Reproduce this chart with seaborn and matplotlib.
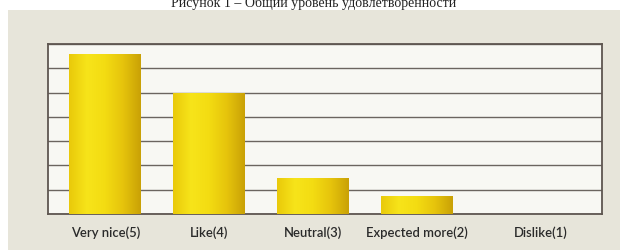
import numpy as np
import pandas as pd
import matplotlib.pyplot as plt
import matplotlib.patches as mpatches
import matplotlib.transforms as mtransforms
from matplotlib.colors import LinearSegmentedColormap
import seaborn as sns

# данные
categories = ["Very nice(5)", "Like(4)", "Neutral(3)", "Expected more(2)", "Dislike(1)"]
values = [6.6, 5.0, 1.5, 0.75, 0.0]
title = "Рисунок 1 – Общий уровень удовлетворенности"

df = pd.DataFrame({"cat": categories, "val": values})

sns.set_theme(style="white")
plt.rcParams["font.family"] = ["Lato", "DejaVu Sans"]

fig = plt.figure(figsize=(6.27, 2.5), dpi=100, facecolor="white")

# бежевая подложка
panel = mpatches.Rectangle((8 / 627, 0), 612 / 627, 240 / 250,
                           transform=fig.transFigure,
                           facecolor="#E7E5DA", edgecolor="none", zorder=-5)
fig.patches.append(panel)

# заголовок (обрезан сверху, как на исходнике)
fig.text(0.5, 1 - 6.5 / 250, title, ha="center", va="baseline",
         fontsize=10.0, family="Liberation Serif", color="#222222")

ax = fig.add_axes([48 / 627, 36 / 250, 554 / 627, 170 / 250])
ax.set_zorder(2)
ax.set_facecolor("#F8F8F3")

sns.barplot(data=df, x="cat", y="val", color="#F0D814", width=0.69,
            saturation=1, ax=ax, zorder=3)

# градиент на столбиках (объём)
cmap = LinearSegmentedColormap.from_list(
    "gold", ["#E9C90A", "#F7E41A", "#F3DC12", "#E6C40C", "#C9A106"])
grad = np.linspace(0, 1, 256).reshape(1, -1)
for p in list(ax.patches):
    p.set_edgecolor("none")
    p.set_linewidth(0)
    if p.get_height() <= 0:
        continue
    x0, w, h = p.get_x(), p.get_width(), p.get_height()
    im = ax.imshow(grad, cmap=cmap, aspect="auto", extent=[x0, x0 + w, 0, h],
                   zorder=4, interpolation="bicubic")
    im.set_clip_path(p)

ax.set_xlim(-0.55, 4.78)
ax.set_ylim(0, 7)
ax.set_yticks(range(0, 8))
ax.yaxis.grid(True, color="#6B655F", linewidth=1.0)
ax.set_axisbelow(True)
ax.set_yticklabels([])
ax.tick_params(axis="y", length=0)
ax.tick_params(axis="x", length=0, pad=9, labelsize=9.4, labelcolor="#2A2A2A")
for lbl in ax.get_xticklabels():
    lbl.set_fontweight("semibold")
# последняя подпись на исходнике стоит правее
last = ax.get_xticklabels()[-1]
last.set_transform(last.get_transform() + mtransforms.ScaledTranslation(0.2, 0, fig.dpi_scale_trans))
ax.set_xlabel("")
ax.set_ylabel("")
for s in ax.spines.values():
    s.set_visible(True)
    s.set_color("#5E5650")
    s.set_linewidth(1.3)

fig.savefig("out.png", dpi=100, facecolor=fig.get_facecolor())
